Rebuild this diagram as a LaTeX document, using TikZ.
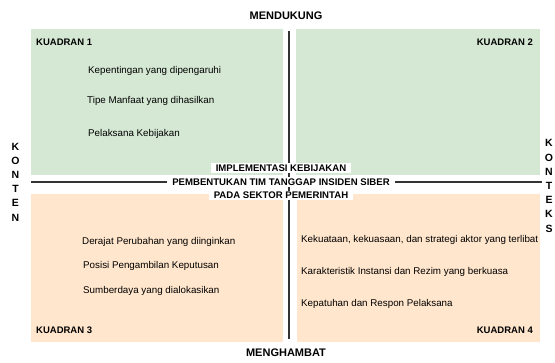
\documentclass[tikz,border=0pt]{standalone}
\usepackage{fontspec}
\setmainfont{Liberation Sans}
\definecolor{qgreen}{HTML}{D5E8D4}
\definecolor{qorange}{HTML}{FFE6CC}
\definecolor{axiscol}{HTML}{333333}
\begin{document}
\begin{tikzpicture}[x=1pt,y=-1pt,
  quad/.style={anchor=north west,inner sep=0pt,draw=none},
  item/.style={anchor=west,inner sep=0pt,font=\fontsize{9.8}{12}\selectfont},
  qlabel/.style={inner sep=0pt,font=\bfseries\fontsize{9.5}{11}\selectfont},
  axislbl/.style={inner sep=0pt,font=\bfseries\fontsize{11}{13}\selectfont},
  centre/.style={fill=white,inner xsep=5pt,inner ysep=1.5pt,font=\bfseries\fontsize{9.6}{11}\selectfont},
  vlbl/.style={inner sep=0pt,align=center,font=\bfseries\fontsize{10.5}{14.2}\selectfont},
  axisline/.style={draw=axiscol,line width=2pt}]
\useasboundingbox (0,0) rectangle (555,363);
% quadrants
\node[quad,fill=qgreen,minimum width=252pt,minimum height=146pt] (q1) at (31,29) {};
\node[quad,fill=qgreen,minimum width=244pt,minimum height=146pt] (q2) at (296,29) {};
\node[quad,fill=qorange,minimum width=252pt,minimum height=148pt] (q3) at (31,194) {};
\node[quad,fill=qorange,minimum width=243pt,minimum height=148pt] (q4) at (297,194) {};
% axes
\coordinate (vt) at (289,31);
\coordinate (vb) at (289,339);
\coordinate (hl) at (31,182);
\coordinate (hr) at (542,182);
\draw[axisline] (vt) -- (vb);
\draw[axisline] (hl) -- (hr);
% axis labels
\node[axislbl] (top) at (286,16) {MENDUKUNG};
\node[axislbl] (bot) at (286,353) {MENGHAMBAT};
\node[vlbl] (left) at (15.5,182) {K\\O\\N\\T\\E\\N};
\node[vlbl] (right) at (549,186) {K\\O\\N\\T\\E\\K\\S};
% centre
\node[centre] (c1) at (281,168) {IMPLEMENTASI KEBIJAKAN};
\node[centre] (c3) at (281,195.5) {PADA SEKTOR PEMERINTAH};
\node[centre] (c2) at (281,182) {PEMBENTUKAN TIM TANGGAP INSIDEN SIBER};
% quadrant labels
\node[qlabel,anchor=west] (k1) at (36,42) {KUADRAN 1};
\node[qlabel,anchor=east] (k2) at (533,42) {KUADRAN 2};
\node[qlabel,anchor=west] (k3) at (36,330) {KUADRAN 3};
\node[qlabel,anchor=east] (k4) at (533,330) {KUADRAN 4};
% items
\node[item] (a1) at (88,71) {Kepentingan yang dipengaruhi};
\node[item] (a2) at (87,101) {Tipe Manfaat yang dihasilkan};
\node[item] (a3) at (88,134) {Pelaksana Kebijakan};
\node[item] (b1) at (82,242) {Derajat Perubahan yang diinginkan};
\node[item] (b2) at (83,266) {Posisi Pengambilan Keputusan};
\node[item] (b3) at (83,291) {Sumberdaya yang dialokasikan};
\node[item] (d1) at (301,240) {Kekuataan, kekuasaan, dan strategi aktor yang terlibat};
\node[item] (d2) at (301,272) {Karakteristik Instansi dan Rezim yang berkuasa};
\node[item] (d3) at (301,304) {Kepatuhan dan Respon Pelaksana};
\end{tikzpicture}
\end{document}
